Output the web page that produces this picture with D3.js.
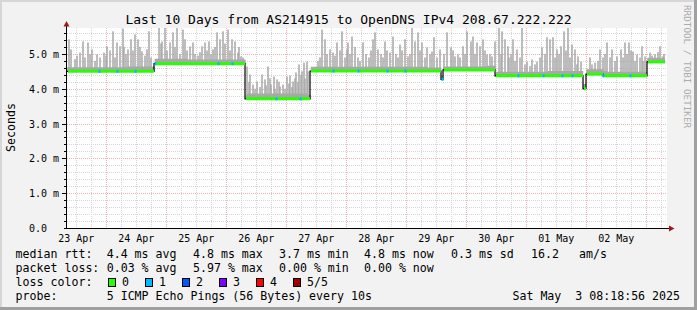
<!doctype html>
<html lang="en">
<head>
  <meta charset="utf-8">
  <title>Last 10 Days from AS214915 to OpenDNS IPv4 208.67.222.222</title>
  <script type="text/javascript" src="https://cdnjs.cloudflare.com/ajax/libs/d3/7.8.5/d3.min.js"></script>
  <style>
    body { margin: 0; background: #f2f2f2; }
    svg text { font-family: "DejaVu Sans Mono", monospace; white-space: pre; }
  </style>
</head>
<body>
  <svg width="697" height="310" id="svg"></svg>
</body>

<script type="text/javascript">

	var parse = d3.utcParse('%Y-%m-%dT%H:%M');
	var startTime = new Date(Date.UTC(2025, 3, 23, 8, 18, 56));
	var endTime = new Date(Date.UTC(2025, 4, 3, 8, 18, 56));

	// median rtt (ms), stepped: value holds from its time until the next one
	var medianTimes = ['2025-04-23T08:19', '2025-04-24T19:07', '2025-04-26T07:31', '2025-04-27T09:31',
		'2025-04-29T13:55', '2025-04-29T14:43', '2025-04-30T11:31', '2025-05-01T22:43',
		'2025-05-01T23:55', '2025-05-02T06:43', '2025-05-03T00:19'];
	var medianValues = [4.50, 4.72, 3.71, 4.51, 4.27, 4.54, 4.37, 4.00, 4.42, 4.37, 4.77];
	var medianEnd = '2025-05-03T07:31';

	// samples where one of 5 pings got lost
	var lossTimes = ['2025-04-23T21:07', '2025-04-24T04:19', '2025-04-24T11:31', '2025-04-24T19:30',
		'2025-04-25T20:43', '2025-04-26T02:19', '2025-04-26T19:55', '2025-04-27T05:31',
		'2025-04-27T18:43', '2025-04-28T04:43', '2025-04-28T16:19', '2025-04-28T23:31',
		'2025-04-29T14:19', '2025-04-30T20:43', '2025-05-01T06:43', '2025-05-01T14:19',
		'2025-05-01T18:19', '2025-05-02T06:43', '2025-05-02T17:31'];
	var lossLevels = [1, 1, 1, 1, 1, 1, 1, 1, 1, 1, 1, 1, 1, 1, 1, 1, 1, 1, 1];

	// tall smoke spikes: hours after start, highest ping (ms)
	var spikeHours = [0.8, 1.6, 5.2, 6.4, 8.4, 10, 12, 14.8, 16, 18.4, 20, 21.2, 22.4, 24.4, 25.6, 27.2, 28.4, 30, 32, 32.8,
		36.8, 38, 39.2, 41.2, 42.4, 44, 46.4, 47.2, 49.2, 50.4, 54, 55.2, 56.8, 58.4, 60, 61.2, 62.4, 64.4, 66, 67.2, 68.4, 69.6,
		72, 73.2, 74.4, 76, 78, 79.2, 80.4, 81.6, 82.8, 84, 85.2, 86.4, 88, 89.2, 90.4, 91.6, 92.8, 94, 94.8, 96,
		102, 103.2, 105.2, 106.4, 108, 110, 112, 112.4, 114, 116.4, 118.4, 122.4, 123.2, 124.4, 127.2, 129.2, 130.4, 133.2,
		135.2, 136.4, 138, 139.2, 140.4, 142, 144, 146, 146.8, 149.2, 152, 153.6, 155.2, 156.4, 158.4, 160, 161.6, 162.4,
		164, 165.2, 166.4, 168, 170,
		171.2, 172.8, 174, 175.2, 176.4, 178.4, 180, 182, 184, 186, 188, 190, 192, 193.2, 194.4, 196, 197.6, 198.8, 200.4,
		202, 203.2, 204.4, 205.6,
		209.2, 211.2, 213.2, 216, 218, 220, 221.6, 223.2, 224.8, 226.4, 228, 230, 231.2,
		233.2, 235.2, 237.2, 238.4];
	var spikeValues = [5.42, 5.13, 5.04, 5.36, 5.33, 5.13, 4.99, 5.04, 5.22, 5.65, 5.33, 5.22, 5.73, 5.13, 5.42, 5.56, 5.42, 5.07, 5.13, 5.65,
		6.0, 5.36, 6.0, 5.33, 5.62, 6.0, 5.70, 5.42, 5.22, 5.33, 5.22, 5.33, 5.36, 5.13, 5.62, 5.42, 5.65, 5.70, 5.42, 5.36, 5.04, 4.93,
		4.64, 4.41, 4.12, 4.21, 4.41, 4.27, 4.64, 4.12, 4.35, 4.27, 4.06, 4.12, 4.35, 4.38, 4.21, 4.47, 4.70, 4.50, 4.75, 4.78,
		5.70, 5.42, 5.13, 5.04, 5.33, 5.65, 5.13, 5.33, 5.50, 4.90, 5.33, 5.42, 5.62, 5.13, 5.36, 5.04, 5.50, 5.27,
		5.42, 4.93, 6.0, 5.36, 5.62, 5.33, 5.19, 5.07, 5.48, 5.13, 5.62, 5.19, 4.93, 4.99, 5.22, 5.65, 5.36, 5.50,
		5.33, 5.22, 5.42, 4.99, 4.93,
		5.36, 6.0, 5.65, 5.42, 5.22, 5.42, 5.13, 6.0, 4.78, 4.84, 4.78, 5.19, 5.48, 5.42, 5.48, 5.13, 5.22, 5.65, 6.0,
		5.27, 5.13, 4.93, 4.78,
		4.90, 4.75, 5.13, 5.33, 5.13, 4.93, 5.13, 5.33, 5.33, 5.07, 4.99, 5.22, 4.93,
		5.04, 4.99, 5.22, 4.93];

	// lower smoke between the tall spikes
	var lowHours = [3.2, 4.0, 7.2, 9.2, 11.2, 13.2, 15.6, 17.2, 19.2, 22.8, 23.6, 26.4, 29.2, 31.2, 33.6,
		37.6, 40, 43.2, 45.2, 48, 51.2, 52.4, 53.2, 56, 57.6, 59.2, 63.2, 65.2, 68.8, 70.4,
		72.8, 75.2, 77.2, 79.6, 81.2, 83.2, 84.8, 87.2, 88.8, 90, 91.2, 92.4, 93.6, 95.2, 96.4,
		100.4, 101.2, 104, 107.2, 109.2, 111.2, 113.2, 115.2, 117.2, 119.6, 120.8, 121.6, 125.6, 126.4, 128,
		131.6, 132.4, 134, 137.2, 141.2, 143.2, 145.2, 148, 150.8, 154.4, 157.2, 159.2, 163.2, 167.2, 169.2,
		173.6, 176.8, 177.6, 179.2, 181.2, 183.2, 185.2, 187.2, 189.2, 191.2, 195.2, 196.8, 199.6, 201.2, 204,
		210, 212.4, 214.4, 215.2, 217.2, 219.2, 222.4, 224, 225.6, 227.2, 229.2, 230.4,
		234, 236.4, 238.8];
	var lowValues = [4.85, 4.95, 4.90, 5.00, 4.80, 4.90, 4.95, 5.10, 4.90, 5.20, 5.00, 5.10, 5.20, 4.95, 4.90,
		5.30, 5.10, 5.20, 5.00, 5.10, 5.00, 4.95, 5.05, 5.10, 5.00, 5.20, 5.30, 5.10, 5.20, 4.90,
		4.20, 4.00, 4.05, 4.10, 4.30, 4.00, 4.20, 4.00, 4.15, 4.05, 4.30, 4.20, 4.40, 4.30, 4.50,
		4.80, 4.90, 5.00, 4.95, 5.10, 4.90, 5.00, 5.20, 4.80, 5.00, 4.90, 5.10, 5.00, 4.90, 5.10,
		5.00, 4.90, 5.10, 5.00, 5.10, 4.90, 5.00, 4.90, 5.00, 5.10, 4.90, 5.00, 5.00, 5.10, 5.00,
		5.00, 4.90, 5.00, 4.80, 4.90, 4.70, 4.65, 4.70, 4.90, 5.00, 4.90, 5.00, 5.10, 4.90, 4.70,
		4.70, 4.80, 4.90, 5.00, 4.90, 4.80, 4.90, 5.00, 5.10, 4.80, 4.90, 4.80,
		4.95, 5.05, 5.00];

	// typical smoke spread above the median, one value per day of the graph (ms)
	var smokeBand = [0.12, 0.14, 0.12, 0.15, 0.12, 0.12, 0.10, 0.12, 0.14, 0.12];

	var yTicks = [0, 1, 2, 3, 4, 5];
	var yTickLabels = ['0.0  ', '1.0 m', '2.0 m', '3.0 m', '4.0 m', '5.0 m'];
	var dayLabels = ['23 Apr', '24 Apr', '25 Apr', '26 Apr', '27 Apr', '28 Apr', '29 Apr', '30 Apr', '01 May', '02 May'];

	var lossNames = ['0', '1', '2', '3', '4', '5/5'];
	var lossColors = ['#26ff00', '#00b8ff', '#0059ff', '#7e00ff', '#ff0000', '#a00000'];

	var legendRtt = [['median rtt:', 15.6], ['4.4 ms avg', 106.7], ['4.8 ms max', 193], ['3.7 ms min', 279],
		['4.8 ms now', 364], ['0.3 ms sd', 451], ['16.2', 531], ['am/s', 579]];
	var legendLoss = [['packet loss:', 15.6], ['0.03 % avg', 106.7], ['5.97 % max', 193], ['0.00 % min', 279], ['0.00 % now', 364]];

	var W = 697, H = 310;
	var plotL = 67, plotR = 667, plotT = 28, plotB = 228;

	var x = d3.scaleUtc().domain([startTime, endTime]).range([plotL, plotR]);
	var y = d3.scaleLinear().domain([0, 5.745]).range([plotB, plotT]);
	var crisp = function(v) { return Math.round(v) + 0.5; };

	var svg = d3.select('#svg');

	// frame
	svg.append('rect').attr('width', W).attr('height', H).attr('fill', '#f2f2f2');
	svg.append('rect').attr('x', 0).attr('y', 0).attr('width', W).attr('height', 2).attr('fill', '#d6d6d6');
	svg.append('rect').attr('x', 0).attr('y', 0).attr('width', 2).attr('height', H).attr('fill', '#d6d6d6');
	svg.append('rect').attr('x', W - 3).attr('y', 0).attr('width', 3).attr('height', H).attr('fill', '#a0a0a0');
	svg.append('rect').attr('x', 0).attr('y', H - 3).attr('width', W).attr('height', 3).attr('fill', '#a0a0a0');

	svg.append('rect').attr('x', plotL).attr('y', plotT).attr('width', plotR - plotL).attr('height', plotB - plotT).attr('fill', '#ffffff');

	svg.append('clipPath').attr('id', 'plot')
		.append('rect').attr('x', plotL).attr('y', plotT).attr('width', plotR - plotL).attr('height', plotB - plotT);

	// grid
	var minorY = d3.range(1, 29).filter(function(k) { return k % 5 != 0; }).map(function(k) { return k * 0.2; });
	var grid = svg.append('g').attr('clip-path', 'url(#plot)');
	var minorColor = '#d6d6d6', majorColor = '#ebb0b0';

	grid.selectAll(null).data(minorY).enter().append('line')
		.attr('x1', plotL).attr('x2', plotR)
		.attr('y1', function(d) { return crisp(y(d)); }).attr('y2', function(d) { return crisp(y(d)); })
		.attr('stroke', minorColor).attr('stroke-dasharray', '1,1');

	var sixHours = d3.utcHour.every(6).range(startTime, endTime).filter(function(d) { return d.getUTCHours() != 0; });
	var days = d3.utcDay.range(startTime, endTime);

	grid.selectAll(null).data(sixHours).enter().append('line')
		.attr('y1', plotT).attr('y2', plotB)
		.attr('x1', function(d) { return crisp(x(d)); }).attr('x2', function(d) { return crisp(x(d)); })
		.attr('stroke', minorColor).attr('stroke-dasharray', '1,1');

	grid.selectAll(null).data(yTicks.slice(1)).enter().append('line')
		.attr('x1', plotL).attr('x2', plotR)
		.attr('y1', function(d) { return crisp(y(d)); }).attr('y2', function(d) { return crisp(y(d)); })
		.attr('stroke', majorColor).attr('stroke-dasharray', '1,1');

	grid.selectAll(null).data(days).enter().append('line')
		.attr('y1', plotT).attr('y2', plotB)
		.attr('x1', function(d) { return crisp(x(d)); }).attr('x2', function(d) { return crisp(x(d)); })
		.attr('stroke', majorColor).attr('stroke-dasharray', '1,1');

	// median lookup
	var medT = medianTimes.map(function(s) { return parse(s); });
	var medEnd = parse(medianEnd);
	function medianAt(t) {
		var i = d3.bisectRight(medT, t) - 1;
		return medianValues[Math.max(0, i)];
	}
	function dayIndex(t) {
		return Math.min(smokeBand.length - 1, Math.floor((t - startTime) / 864e5));
	}

	var plot = svg.append('g').attr('clip-path', 'url(#plot)');

	// smoke
	var samples = d3.utcMinute.every(24).range(startTime, medEnd);
	samples.push(medEnd);
	var band = d3.area()
		.curve(d3.curveStepAfter)
		.x(function(d) { return x(d); })
		.y0(function(d) { return y(medianAt(d)); })
		.y1(function(d) { return y(medianAt(d) + smokeBand[dayIndex(d)]); });
	plot.append('path').attr('d', band(samples)).attr('fill', '#a8a8a8');

	function toSpikes(hours, values) {
		return hours.map(function(h, i) {
			return { t: new Date(+startTime + h * 36e5), v: values[i] };
		});
	}
	var spikes = toSpikes(spikeHours, spikeValues).concat(toSpikes(lowHours, lowValues));
	plot.selectAll(null).data(spikes).enter().append('rect')
		.attr('x', function(d) { return x(d3.utcMinute.offset(d.t, -18)); })
		.attr('width', function(d) { return x(d3.utcMinute.offset(d.t, 18)) - x(d3.utcMinute.offset(d.t, -18)); })
		.attr('y', function(d) { return y(d.v); })
		.attr('height', function(d) { return Math.max(0, y(medianAt(d.t)) - y(d.v)); })
		.attr('fill', '#a8a8a8');

	// median: thin black line, then loss coloured thick segments
	var medPts = medT.map(function(t, i) { return [t, medianValues[i]]; });
	medPts.push([medEnd, medianValues[medianValues.length - 1]]);
	var medLine = d3.line().curve(d3.curveStepAfter)
		.x(function(d) { return x(d[0]); })
		.y(function(d) { return y(d[1]); });
	plot.append('path').attr('d', medLine(medPts)).attr('fill', 'none').attr('stroke', '#000').attr('stroke-width', 1.2);

	var segs = medT.map(function(t, i) { return [t, i + 1 < medT.length ? medT[i + 1] : medEnd, medianValues[i]]; });
	plot.selectAll(null).data(segs).enter().append('line')
		.attr('x1', function(d) { return x(d[0]) + 1; })
		.attr('x2', function(d) { return x(d[1]); })
		.attr('y1', function(d) { return y(d[2]); })
		.attr('y2', function(d) { return y(d[2]); })
		.attr('stroke', lossColors[0]).attr('stroke-width', 3);

	plot.selectAll(null).data(lossTimes).enter().append('line')
		.attr('x1', function(d) { return x(d3.utcMinute.offset(parse(d), -12)); })
		.attr('x2', function(d) { return x(d3.utcMinute.offset(parse(d), 36)); })
		.attr('y1', function(d) { return y(medianAt(parse(d))); })
		.attr('y2', function(d) { return y(medianAt(parse(d))); })
		.attr('stroke', function(d, i) { return lossColors[lossLevels[i]]; }).attr('stroke-width', 3);

	// axes
	var allY = minorY.concat(yTicks.slice(1));
	svg.selectAll(null).data(allY).enter().append('line')
		.attr('x1', function(d) { return d % 1 === 0 ? 62 : 64; }).attr('x2', 66)
		.attr('y1', function(d) { return crisp(y(d)); }).attr('y2', function(d) { return crisp(y(d)); })
		.attr('stroke', '#000');

	svg.append('line').attr('x1', 66.5).attr('x2', 66.5).attr('y1', 229).attr('y2', 25).attr('stroke', '#000');
	svg.append('line').attr('x1', 64).attr('x2', 670).attr('y1', 228.5).attr('y2', 228.5).attr('stroke', '#000');
	svg.append('path').attr('d', 'M66.5,21 L63.5,26.5 L69.5,26.5 Z').attr('fill', '#9e1a1a');
	svg.append('path').attr('d', 'M674.5,228.5 L669,225.5 L669,231.5 Z').attr('fill', '#9e1a1a');

	svg.selectAll(null).data(yTicks).enter().append('text')
		.attr('x', 29)
		.attr('y', function(d) { return crisp(y(d)) + 3.5; })
		.attr('font-size', '10px')
		.attr('fill', '#000')
		.text(function(d, i) { return yTickLabels[i]; });

	svg.selectAll(null).data(dayLabels).enter().append('text')
		.attr('x', function(d, i) { return x(d3.utcHour.offset(d3.utcDay.offset(days[0], i - 1), 12)); })
		.attr('y', 242)
		.attr('text-anchor', 'middle')
		.attr('font-size', '10px')
		.attr('fill', '#000')
		.text(function(d) { return d; });

	// titles
	svg.append('text').attr('x', 348.5).attr('y', 24).attr('text-anchor', 'middle')
		.attr('font-size', '13px').attr('fill', '#000')
		.text('Last 10 Days from AS214915 to OpenDNS IPv4 208.67.222.222');

	svg.append('text').attr('transform', 'translate(14.5,127.5) rotate(-90)').attr('text-anchor', 'middle')
		.attr('font-size', '11.6px').attr('fill', '#000').text('Seconds');

	svg.append('text').attr('transform', 'translate(684,5) rotate(90)')
		.attr('font-size', '9.3px').attr('fill', '#ababab').text('RRDTOOL / TOBI OETIKER');

	// legend
	function legendRow(items, baseY) {
		svg.selectAll(null).data(items).enter().append('text')
			.attr('x', function(d) { return d[1]; })
			.attr('y', baseY)
			.attr('font-size', '11.6px')
			.attr('fill', '#000')
			.text(function(d) { return d[0]; });
	}
	legendRow(legendRtt, 258.3);
	legendRow(legendLoss, 272.3);
	legendRow([['loss color:', 15.6]], 286.2);
	legendRow([['probe:', 15.6], ['5 ICMP Echo Pings (56 Bytes) every 10s', 106.7]], 300.2);

	svg.append('text').attr('x', 680).attr('y', 300.2).attr('text-anchor', 'end')
		.attr('font-size', '11.6px').attr('fill', '#000').text('Sat May  3 08:18:56 2025');

	svg.selectAll(null).data(lossColors).enter().append('rect')
		.attr('x', function(d, i) { return 108.5 + Math.round(i * 36.9); })
		.attr('y', 278.5).attr('width', 7).attr('height', 8)
		.attr('fill', function(d) { return d; })
		.attr('stroke', '#000');

	svg.selectAll(null).data(lossNames).enter().append('text')
		.attr('x', function(d, i) { return 122 + Math.round(i * 36.9); })
		.attr('y', 286.2)
		.attr('font-size', '11.6px').attr('fill', '#000')
		.text(function(d) { return d; });

</script>
</html>
